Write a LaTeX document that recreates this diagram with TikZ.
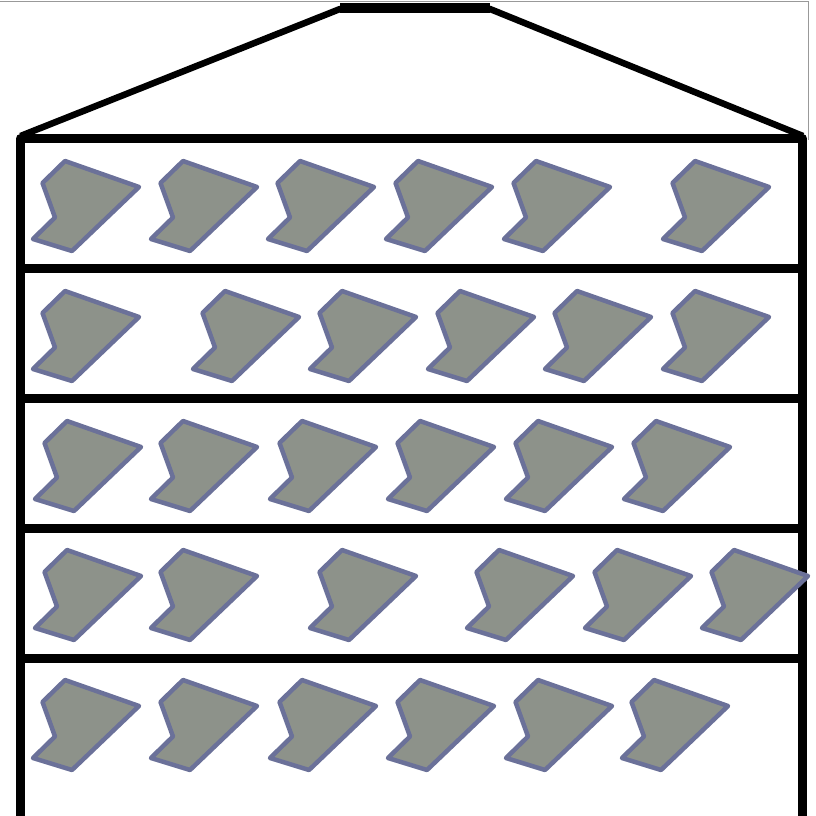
\documentclass[tikz,border=0pt]{standalone}
\usepackage{tikz}
\definecolor{piecegray}{RGB}{141,146,138}
\definecolor{pieceblue}{RGB}{107,113,153}

\begin{document}
\begin{tikzpicture}[x=1pt, y=-1pt,
    wall/.style={draw=black, line width=9pt, line join=round},
    roof/.style={draw=black, line width=6.5pt, line join=round},
    frameline/.style={draw=gray!80, line width=1pt},
    piece/.style={draw=pieceblue, fill=piecegray, line width=4.5pt, line join=round}
]
\useasboundingbox (0,0) rectangle (815,816);
\draw[frameline] (0,1.7) -- (808,1.7) -- (808,140);

% roof
\draw[roof] (20.5,136) -- (340,9) -- (490,9) -- (803,136);
\draw[draw=black, line width=10pt] (340,8) -- (490,8);

% walls and shelves
\draw[wall] (20.5,816) -- (20.5,138.5) -- (802.5,138.5) -- (802.5,816);
\foreach \y in {268.5,398,528,658}
  \draw[wall] (20.5,\y) -- (802.5,\y);

% pieces, row by row
\foreach \row/\xs in {161/{65,183,300,418,536,695},
                      291/{65,225,342,460,577,695},
                      421/{67,183,302,420,538,656},
                      550/{67,183,342,499,617,734},
                      680/{65,183,302,420,538,654}}
  \foreach \x in \xs
    \draw[piece, shift={(\x,\row)}] (0,0) -- (-22.5,22) -- (-10,56.5) -- (-32,78)
        -- (7,90) -- (74,26) -- cycle;
\end{tikzpicture}
\end{document}
